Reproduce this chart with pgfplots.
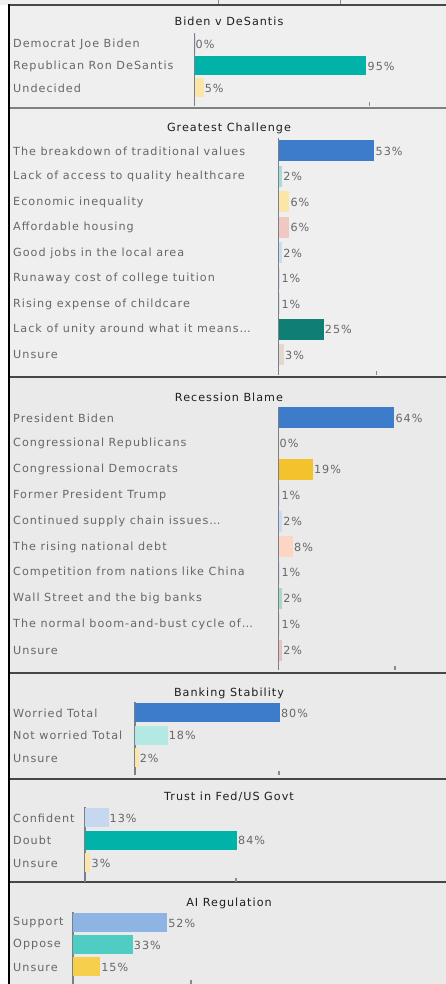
\documentclass[border=0pt]{standalone}
\usepackage{pgfplots}
\pgfplotsset{compat=1.18}
\usepackage{fontspec}
\setmainfont{DejaVu Sans}
\newfontfamily\lab[LetterSpace=9]{DejaVu Sans}
\newcommand\labfont{\lab\fontsize{11.2bp}{13bp}\selectfont}
\newcommand\dotsx{\char"2026\relax}
\definecolor{labgray}{HTML}{676767}
\definecolor{titlecol}{HTML}{1E1E1E}
\definecolor{axisgray}{HTML}{7A7F88}
\definecolor{tickgray}{HTML}{8A8A8A}
\definecolor{bgA}{HTML}{EFEFEF}
\definecolor{bgB}{HTML}{EAEAEA}
\definecolor{sepcol}{HTML}{474747}
\definecolor{cBlue}{HTML}{3D7CCA}
\definecolor{cTeal}{HTML}{00B2A7}
\definecolor{cPaleY}{HTML}{FBE6A8}
\definecolor{cLtTeal}{HTML}{A6DDD6}
\definecolor{cPink}{HTML}{F0C8C2}
\definecolor{cLtBlue}{HTML}{C9DDF2}
\definecolor{cFaint}{HTML}{DCDCE4}
\definecolor{cDkTeal}{HTML}{0F7F73}
\definecolor{cBeige}{HTML}{E2D8CB}
\definecolor{cGold}{HTML}{F3C22C}
\definecolor{cPeach}{HTML}{FCD5C3}
\definecolor{cLtGreen}{HTML}{A9D8C9}
\definecolor{cRose}{HTML}{E4C4C0}
\definecolor{cAqua}{HTML}{B3E8E3}
\definecolor{cSky}{HTML}{C5D8EF}
\definecolor{cMidBlue}{HTML}{8EB4E3}
\definecolor{cMint}{HTML}{4FCDC3}
\definecolor{cYellow}{HTML}{F6CF4C}
\pgfplotsset{
  panel/.style={
    xbar, bar shift=0pt, clip=false,
    x=1.81bp, xmin=0, xmax=100,
    axis y line=left, axis x line=bottom, axis line style={-},
    x axis line style={draw=none},
    y axis line style={draw=axisgray, line width=1.6bp},
    ytick style={draw=none},
    xtick style={draw=tickgray, line width=1.3bp},
    major tick length=4bp, tick align=inside,
    xticklabels={},
    /pgf/number format/assume math mode=true,
    yticklabel style={font=\labfont, color=labgray, anchor=west, inner sep=0pt},
    point meta=x,
    nodes near coords={\pgfmathprintnumber[assume math mode=true]{\pgfplotspointmeta}\%},
    nodes near coords style={font=\labfont, color=labgray, anchor=west, inner sep=1bp},
  }
}
\begin{document}
\begin{tikzpicture}[x=1bp,y=1bp]
\useasboundingbox (0,0) rectangle (446,984);
\fill[white] (0,0) rectangle (446,984);
\fill[bgA] (0,979) rectangle (446,984);
\fill[bgA] (9,607) rectangle (446,979);
\fill[bgB] (9,0) rectangle (446,607);
\draw[tickgray, line width=1bp] (218,984) -- (218,980);
\draw[tickgray, line width=1bp] (340,984) -- (340,980);
% separators
\draw[sepcol, line width=2bp] (8,979) -- (446,979);
\draw[gray, line width=1.3bp] (9,876) -- (446,876);
\draw[sepcol, line width=2bp] (9,607) -- (446,607);
\draw[sepcol, line width=2bp] (9,311) -- (446,311);
\draw[sepcol, line width=2bp] (9,205) -- (446,205);
\draw[sepcol, line width=2bp] (9,102) -- (446,102);
\draw[black, line width=2bp] (8.5,0) -- (8.5,980);
% titles
\node[font=\labfont, text=titlecol] at (229,963) {Biden v DeSantis};
\node[font=\labfont, text=titlecol] at (229,856) {Greatest Challenge};
\node[font=\labfont, text=titlecol] at (229,587) {Recession Blame};
\node[font=\labfont, text=titlecol] at (229,291) {Banking Stability};
\node[font=\labfont, text=titlecol] at (229,187) {Trust in Fed/US Govt};
\node[font=\labfont, text=titlecol] at (229,81) {AI Regulation};

% Panel 1
\begin{axis}[panel, at={(194.5bp,951bp)}, anchor=north west,
  y=22bp, ymin=-2.818, ymax=0.5, bar width=19bp,
  xtick={96.5},
  ytick={-2,-1,0},
  yticklabels={Undecided, Republican Ron DeSantis, Democrat Joe Biden},
  yticklabel style={xshift=-181.5bp}]
\addplot[fill=cBlue, draw=none] coordinates {(0,0)};
\addplot[fill=cTeal, draw=none] coordinates {(95,-1)};
\addplot[fill=cPaleY, draw=none] coordinates {(5,-2)};
\end{axis}

% Panel 2
\begin{axis}[panel, at={(278.5bp,846bp)}, anchor=north west,
  y=25.5bp, ymin=-8.784, ymax=0.51, bar width=21bp,
  xtick={54},
  ytick={-8,-7,-6,-5,-4,-3,-2,-1,0},
  yticklabels={Unsure, {Lack of unity around what it means\dotsx}, Rising expense of childcare, Runaway cost of college tuition, Good jobs in the local area, Affordable housing, Economic inequality, Lack of access to quality healthcare, The breakdown of traditional values},
  yticklabel style={xshift=-265.5bp}]
\addplot[fill=cBlue, draw=none] coordinates {(53,0)};
\addplot[fill=cLtTeal, draw=none] coordinates {(2,-1)};
\addplot[fill=cPaleY, draw=none] coordinates {(6,-2)};
\addplot[fill=cPink, draw=none] coordinates {(6,-3)};
\addplot[fill=cLtBlue, draw=none] coordinates {(2,-4)};
\addplot[fill=cFaint, draw=none] coordinates {(1,-5)};
\addplot[fill=cFaint, draw=none] coordinates {(1,-6)};
\addplot[fill=cDkTeal, draw=none] coordinates {(25,-7)};
\addplot[fill=cBeige, draw=none] coordinates {(3,-8)};
\end{axis}

% Panel 3
\begin{axis}[panel, at={(278.5bp,577bp)}, anchor=north west,
  y=25.8bp, ymin=-9.767, ymax=0.426, bar width=21bp,
  xtick={64.4},
  ytick={-9,-8,-7,-6,-5,-4,-3,-2,-1,0},
  yticklabels={Unsure, {The normal boom-and-bust cycle of\dotsx}, Wall Street and the big banks, Competition from nations like China, The rising national debt, {Continued supply chain issues\dotsx}, Former President Trump, Congressional Democrats, Congressional Republicans, President Biden},
  yticklabel style={xshift=-265.5bp}]
\addplot[fill=cBlue, draw=none] coordinates {(64,0)};
\addplot[fill=cFaint, draw=none] coordinates {(0,-1)};
\addplot[fill=cGold, draw=none] coordinates {(19,-2)};
\addplot[fill=cFaint, draw=none] coordinates {(1,-3)};
\addplot[fill=cLtBlue, draw=none] coordinates {(2,-4)};
\addplot[fill=cPeach, draw=none] coordinates {(8,-5)};
\addplot[fill=cFaint, draw=none] coordinates {(1,-6)};
\addplot[fill=cLtGreen, draw=none] coordinates {(2,-7)};
\addplot[fill=cFaint, draw=none] coordinates {(1,-8)};
\addplot[fill=cRose, draw=none] coordinates {(2,-9)};
\end{axis}

% Panel 4
\begin{axis}[panel, at={(135bp,282bp)}, anchor=north west,
  y=22.5bp, ymin=-2.756, ymax=0.489, bar width=19bp,
  xtick={79.6},
  ytick={-2,-1,0},
  yticklabels={Unsure, Not worried Total, Worried Total},
  yticklabel style={xshift=-122bp}]
\addplot[fill=cBlue, draw=none] coordinates {(80,0)};
\addplot[fill=cAqua, draw=none] coordinates {(18,-1)};
\addplot[fill=cPaleY, draw=none] coordinates {(2,-2)};
\end{axis}

% Panel 5
\begin{axis}[panel, at={(85bp,177bp)}, anchor=north west,
  y=22.5bp, ymin=-2.844, ymax=0.489, bar width=19bp,
  xtick={83.4},
  ytick={-2,-1,0},
  yticklabels={Unsure, Doubt, Confident},
  yticklabel style={xshift=-72bp}]
\addplot[fill=cSky, draw=none] coordinates {(13,0)};
\addplot[fill=cTeal, draw=none] coordinates {(84,-1)};
\addplot[fill=cPaleY, draw=none] coordinates {(3,-2)};
\end{axis}

% Panel 6
\begin{axis}[panel, at={(73bp,72bp)}, anchor=north west,
  y=22bp, ymin=-2.77, ymax=0.5, bar width=19bp,
  xtick={65.2},
  ytick={-2,-1,0},
  yticklabels={Unsure, Oppose, Support},
  yticklabel style={xshift=-60bp}]
\addplot[fill=cMidBlue, draw=none] coordinates {(52,0)};
\addplot[fill=cMint, draw=none] coordinates {(33,-1)};
\addplot[fill=cYellow, draw=none] coordinates {(15,-2)};
\end{axis}
\end{tikzpicture}
\end{document}
